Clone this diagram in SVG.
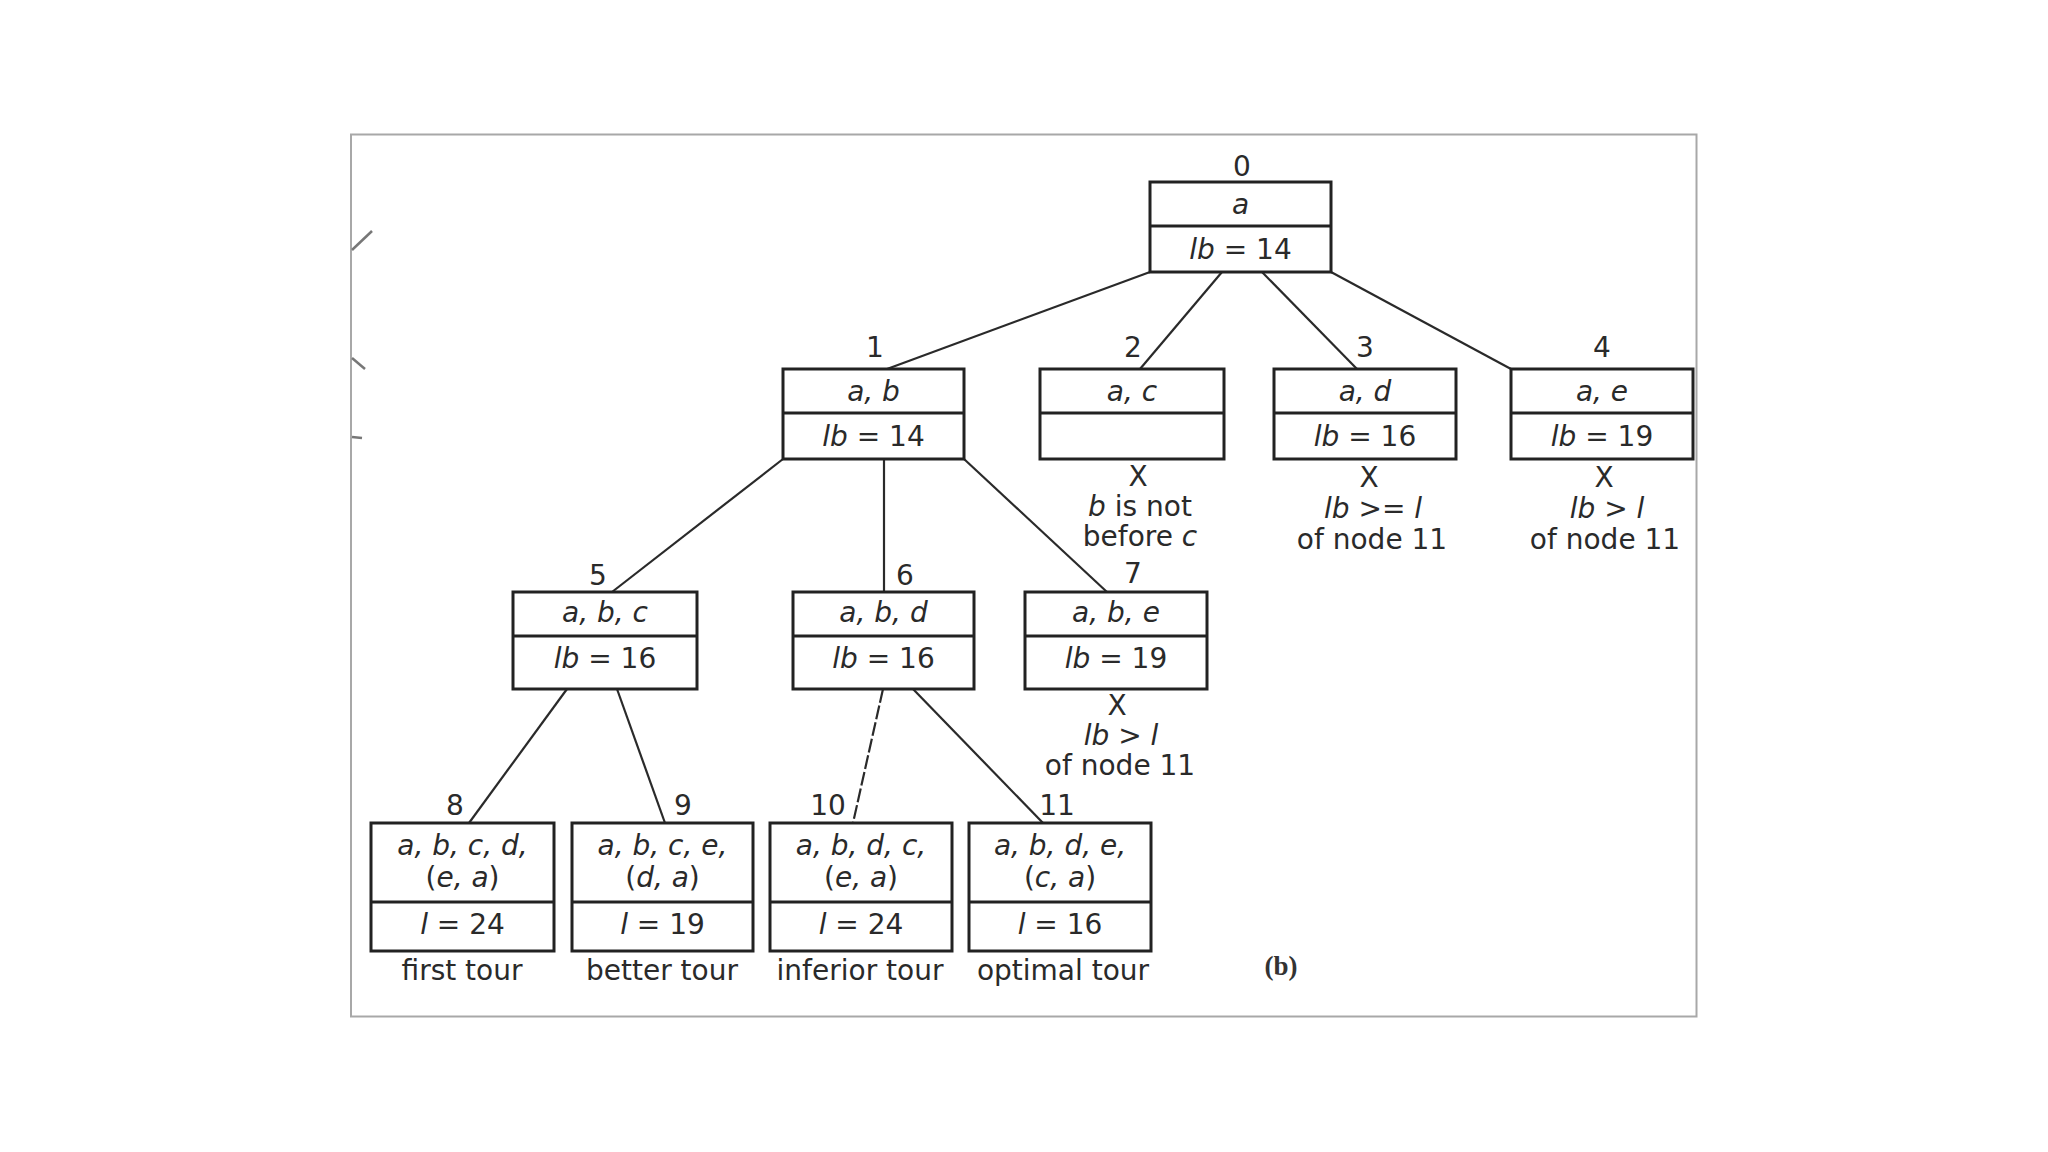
<svg xmlns="http://www.w3.org/2000/svg" width="2048" height="1152" viewBox="0 0 2048 1152">
<style>
.box{fill:#fff;stroke:#222;stroke-width:3}
.div{stroke:#222;stroke-width:3}
.t{font-family:"DejaVu Sans","Liberation Sans",sans-serif;font-size:28px;fill:#2a2a2a;text-anchor:middle}
.i{font-style:italic}
.edge{stroke:#2a2a2a;stroke-width:2.2;fill:none}
.mark{stroke:#777;stroke-width:2.5;fill:none}
</style>
<rect x="0" y="0" width="2048" height="1152" fill="#fff"/>
<rect x="351" y="134.5" width="1345.5" height="882" fill="none" stroke="#a8a8a8" stroke-width="2"/>
<g id="edge-marks">
<line class="mark" x1="352" y1="250" x2="372" y2="231"/>
<line class="mark" x1="352" y1="358" x2="365" y2="369"/>
<line class="mark" x1="352" y1="437" x2="362" y2="438"/>
</g>
<g id="connectors">
<line class="edge" x1="1150" y1="272" x2="887" y2="369"/>
<line class="edge" x1="1222" y1="272" x2="1140" y2="369"/>
<line class="edge" x1="1262" y1="272" x2="1357" y2="369"/>
<line class="edge" x1="1331" y1="272" x2="1511" y2="369"/>
<line class="edge" x1="783" y1="459" x2="612" y2="592"/>
<line class="edge" x1="884" y1="459" x2="884" y2="592" stroke="#777"/>
<line class="edge" x1="964" y1="459" x2="1107" y2="592"/>
<line class="edge" x1="567" y1="689" x2="469" y2="823"/>
<line class="edge" x1="617" y1="689" x2="665" y2="823"/>
<line class="edge" x1="883" y1="689" x2="853" y2="823" stroke-dasharray="14 3"/>
<line class="edge" x1="913" y1="689" x2="1043" y2="823"/>
</g>
<g id="node0">
<text class="t" x="1242" y="176">0</text>
<rect class="box" x="1150" y="182" width="181" height="90"/>
<line class="div" x1="1150" y1="226" x2="1331" y2="226"/>
<text class="t i" x="1240.5" y="214">a</text>
<text class="t" x="1240.5" y="259"><tspan class="i">lb</tspan> = 14</text>
</g>
<g id="node1">
<text class="t" x="875" y="357">1</text>
<rect class="box" x="783" y="369" width="181" height="90"/>
<line class="div" x1="783" y1="413" x2="964" y2="413"/>
<text class="t i" x="873.5" y="401">a, b</text>
<text class="t" x="873.5" y="446"><tspan class="i">lb</tspan> = 14</text>
</g>
<g id="node2">
<text class="t" x="1133" y="357">2</text>
<rect class="box" x="1040" y="369" width="184" height="90"/>
<line class="div" x1="1040" y1="413" x2="1224" y2="413"/>
<text class="t i" x="1132" y="401">a, c</text>
<text class="t" x="1138" y="486">X</text>
<text class="t" x="1140" y="516"><tspan class="i">b</tspan> is not</text>
<text class="t" x="1140" y="546">before <tspan class="i">c</tspan></text>
</g>
<g id="node3">
<text class="t" x="1365" y="357">3</text>
<rect class="box" x="1274" y="369" width="182" height="90"/>
<line class="div" x1="1274" y1="413" x2="1456" y2="413"/>
<text class="t i" x="1365" y="401">a, d</text>
<text class="t" x="1365" y="446"><tspan class="i">lb</tspan> = 16</text>
<text class="t" x="1369" y="487">X</text>
<text class="t" x="1373" y="518"><tspan class="i">lb</tspan> &gt;= <tspan class="i">l</tspan></text>
<text class="t" x="1372" y="549">of node 11</text>
</g>
<g id="node4">
<text class="t" x="1602" y="357">4</text>
<rect class="box" x="1511" y="369" width="182" height="90"/>
<line class="div" x1="1511" y1="413" x2="1693" y2="413"/>
<text class="t i" x="1602" y="401">a, e</text>
<text class="t" x="1602" y="446"><tspan class="i">lb</tspan> = 19</text>
<text class="t" x="1604" y="487">X</text>
<text class="t" x="1607" y="518"><tspan class="i">lb</tspan> &gt; <tspan class="i">l</tspan></text>
<text class="t" x="1605" y="549">of node 11</text>
</g>
<g id="node5">
<text class="t" x="598" y="585">5</text>
<rect class="box" x="513" y="592" width="184" height="97"/>
<line class="div" x1="513" y1="636" x2="697" y2="636"/>
<text class="t i" x="605" y="622">a, b, c</text>
<text class="t" x="605" y="668"><tspan class="i">lb</tspan> = 16</text>
</g>
<g id="node6">
<text class="t" x="905" y="585">6</text>
<rect class="box" x="793" y="592" width="181" height="97"/>
<line class="div" x1="793" y1="636" x2="974" y2="636"/>
<text class="t i" x="883.5" y="622">a, b, d</text>
<text class="t" x="883.5" y="668"><tspan class="i">lb</tspan> = 16</text>
</g>
<g id="node7">
<text class="t" x="1133" y="583">7</text>
<rect class="box" x="1025" y="592" width="182" height="97"/>
<line class="div" x1="1025" y1="636" x2="1207" y2="636"/>
<text class="t i" x="1116" y="622">a, b, e</text>
<text class="t" x="1116" y="668"><tspan class="i">lb</tspan> = 19</text>
<text class="t" x="1117" y="715">X</text>
<text class="t" x="1121" y="745"><tspan class="i">lb</tspan> &gt; <tspan class="i">l</tspan></text>
<text class="t" x="1120" y="775">of node 11</text>
</g>
<g id="node8">
<text class="t" x="455" y="815">8</text>
<rect class="box" x="371" y="823" width="183" height="128"/>
<line class="div" x1="371" y1="902" x2="554" y2="902"/>
<text class="t i" x="462.5" y="855">a, b, c, d,</text>
<text class="t" x="462.5" y="887">(<tspan class="i">e, a</tspan>)</text>
<text class="t" x="462.5" y="934"><tspan class="i">l</tspan> = 24</text>
<text class="t" x="462" y="980">first tour</text>
</g>
<g id="node9">
<text class="t" x="683" y="815">9</text>
<rect class="box" x="572" y="823" width="181" height="128"/>
<line class="div" x1="572" y1="902" x2="753" y2="902"/>
<text class="t i" x="662.5" y="855">a, b, c, e,</text>
<text class="t" x="662.5" y="887">(<tspan class="i">d, a</tspan>)</text>
<text class="t" x="662.5" y="934"><tspan class="i">l</tspan> = 19</text>
<text class="t" x="662" y="980">better tour</text>
</g>
<g id="node10">
<text class="t" x="828" y="815">10</text>
<rect class="box" x="770" y="823" width="182" height="128"/>
<line class="div" x1="770" y1="902" x2="952" y2="902"/>
<text class="t i" x="861" y="855">a, b, d, c,</text>
<text class="t" x="861" y="887">(<tspan class="i">e, a</tspan>)</text>
<text class="t" x="861" y="934"><tspan class="i">l</tspan> = 24</text>
<text class="t" x="860" y="980">inferior tour</text>
</g>
<g id="node11">
<text class="t" x="1057" y="815">11</text>
<rect class="box" x="969" y="823" width="182" height="128"/>
<line class="div" x1="969" y1="902" x2="1151" y2="902"/>
<text class="t i" x="1060" y="855">a, b, d, e,</text>
<text class="t" x="1060" y="887">(<tspan class="i">c, a</tspan>)</text>
<text class="t" x="1060" y="934"><tspan class="i">l</tspan> = 16</text>
<text class="t" x="1063" y="980">optimal tour</text>
</g>
<text x="1281" y="975" font-family="Liberation Serif, serif" font-size="27" font-weight="bold" fill="#333" text-anchor="middle">(b)</text>
</svg>
